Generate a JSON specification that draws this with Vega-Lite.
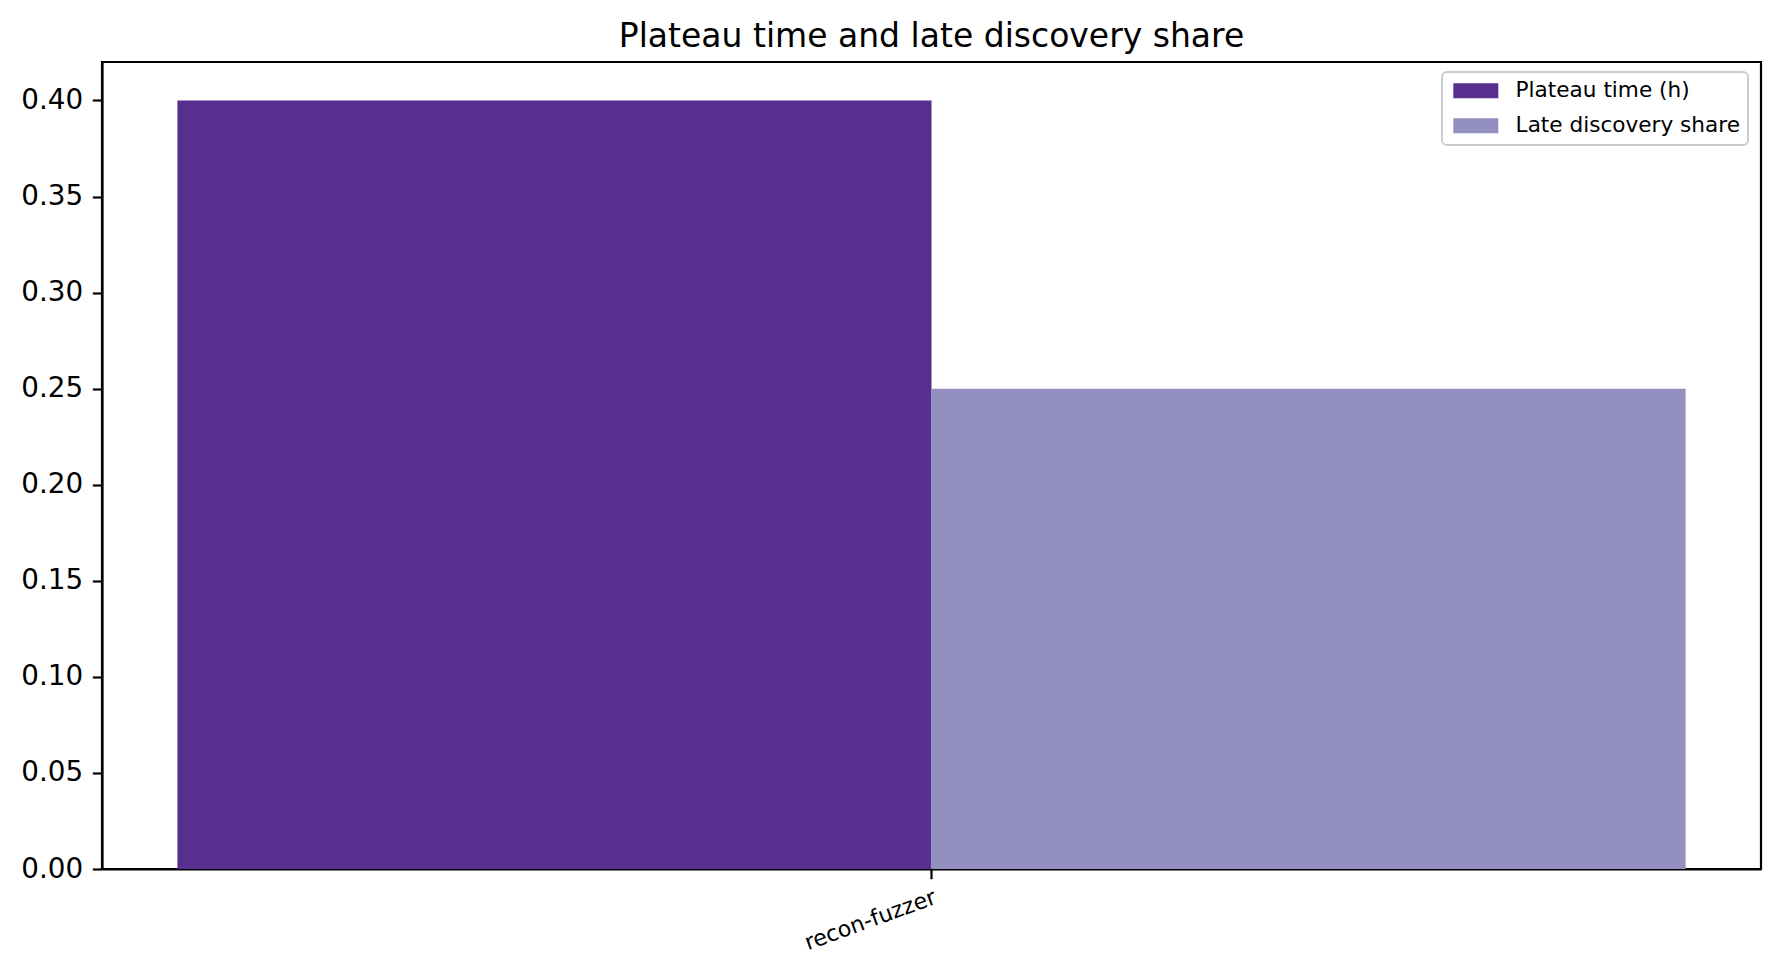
{
  "$schema": "https://vega.github.io/schema/vega-lite/v6.json",
  "autosize": "none",
  "padding": {"left": 102, "top": 62, "right": 20, "bottom": 108},
  "width": 1659,
  "height": 807,
  "background": "white",
  "title": {
    "text": "Plateau time and late discovery share",
    "font": "DejaVu Sans",
    "fontSize": 33,
    "fontWeight": "normal",
    "color": "black",
    "anchor": "middle",
    "offset": 8.5
  },
  "data": {
    "values": [
      {"tool": "recon-fuzzer", "metric": "Plateau time (h)", "value": 0.40},
      {"tool": "recon-fuzzer", "metric": "Late discovery share", "value": 0.25}
    ]
  },
  "mark": {"type": "bar"},
  "encoding": {
    "x": {
      "field": "tool",
      "type": "nominal",
      "scale": {"paddingInner": 0, "paddingOuter": 0.05},
      "axis": {
        "title": null,
        "labelAngle": -20,
        "labelAlign": "right",
        "labelBaseline": "top",
        "labelFontSize": 22.2,
        "labelPadding": 7,
        "labelDx": -8,
        "tickSize": 9.7
      }
    },
    "xOffset": {
      "field": "metric",
      "type": "nominal",
      "sort": ["Plateau time (h)", "Late discovery share"],
      "scale": {"paddingInner": 0, "paddingOuter": 0}
    },
    "y": {
      "field": "value",
      "type": "quantitative",
      "scale": {"domain": [0, 0.42], "nice": false},
      "axis": {
        "title": null,
        "values": [0, 0.05, 0.1, 0.15, 0.2, 0.25, 0.3, 0.35, 0.4],
        "format": ".2f",
        "labelFontSize": 27.8,
        "tickSize": 9.7,
        "labelPadding": 9.7
      }
    },
    "color": {
      "field": "metric",
      "type": "nominal",
      "sort": ["Plateau time (h)", "Late discovery share"],
      "scale": {
        "domain": ["Plateau time (h)", "Late discovery share"],
        "range": ["#57308f", "#9390c1"]
      },
      "legend": {
        "title": null,
        "orient": "none",
        "legendX": 1340,
        "legendY": 10,
        "symbolType": "M-1,-1H5V1H-1Z",
        "symbolSize": 225,
        "symbolStrokeWidth": 0,
        "symbolOpacity": 1,
        "labelOffset": 44,
        "labelFontSize": 21.6,
        "labelFont": "DejaVu Sans",
        "labelColor": "black",
        "labelLimit": 400,
        "rowPadding": 12,
        "padding": 8,
        "strokeColor": "#cccccc",
        "fillColor": "white",
        "cornerRadius": 5
      }
    }
  },
  "config": {
    "font": "DejaVu Sans",
    "view": {"stroke": "black", "strokeWidth": 2.2},
    "legend": {"strokeWidth": 2},
    "axis": {
      "grid": false,
      "domainColor": "black",
      "domainWidth": 2.2,
      "tickColor": "black",
      "tickWidth": 2.2,
      "labelColor": "black",
      "labelFont": "DejaVu Sans"
    }
  }
}
